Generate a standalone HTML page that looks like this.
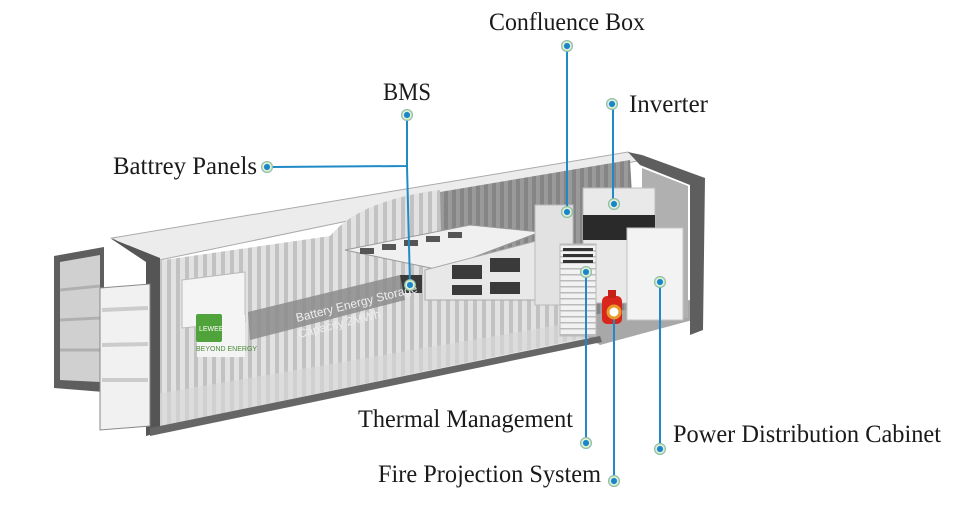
<!DOCTYPE html>
<html><head><meta charset="utf-8"><style>
html,body{margin:0;padding:0;background:#fff;width:960px;height:512px;overflow:hidden}
svg text{font-family:"Liberation Serif",serif;fill:#1a1a1a}
</style></head><body>
<svg width="960" height="512" viewBox="0 0 960 512" xmlns="http://www.w3.org/2000/svg">
<defs>
<pattern id="corr" width="9" height="10" patternUnits="userSpaceOnUse">
<rect width="9" height="10" fill="#e2e2e2"/><rect x="5" width="4" height="10" fill="#c2c2c2"/>
</pattern>
<pattern id="corrD" width="8" height="10" patternUnits="userSpaceOnUse">
<rect width="8" height="10" fill="#9a9a9a"/><rect x="4" width="4" height="10" fill="#858585"/>
</pattern>
<pattern id="vent" width="10" height="6" patternUnits="userSpaceOnUse">
<rect width="10" height="6" fill="#f2f2f2"/><rect y="4" width="10" height="1.5" fill="#bbb"/>
</pattern>
<radialGradient id="dot"><stop offset="0.45" stop-color="#1a86c6"/><stop offset="0.6" stop-color="#fff"/><stop offset="0.8" stop-color="#b9d98a"/><stop offset="1" stop-color="#6aa8d0"/></radialGradient>
</defs>

<!-- left open door -->
<polygon points="54,256 104,247 104,392 54,388" fill="#5e5e5e"/>
<polygon points="60,262 100,255 100,382 60,380" fill="#d0d0d0"/>
<g stroke="#b0b0b0" stroke-width="3"><line x1="60" y1="290" x2="100" y2="286"/><line x1="60" y1="320" x2="100" y2="318"/><line x1="60" y1="350" x2="100" y2="350"/></g>

<!-- roof -->
<polygon points="112,238 628,152 642,160 150,262" fill="#ececec" stroke="#aaa" stroke-width="1"/>
<!-- interior back wall (cutaway) -->
<polygon points="330,240 440,192 630,160 640,330 330,330" fill="url(#corrD)"/>
<!-- front wall -->
<path d="M150,262 L330,236 Q360,200 440,190 L442,270 L540,300 L570,300 L600,335 L150,428 Z" fill="url(#corr)"/>
<polygon points="150,395 600,318 602,338 150,428" fill="#d8d8d8" opacity="0.6"/>
<polygon points="560,320 690,300 700,318 600,345" fill="#a8a8a8"/>

<!-- battery rack -->
<polygon points="345,250 470,225 540,232 440,270" fill="#f0f0f0" stroke="#999"/>
<g fill="#555"><rect x="360" y="248" width="14" height="6"/><rect x="382" y="244" width="14" height="6"/><rect x="404" y="240" width="14" height="6"/><rect x="426" y="236" width="14" height="6"/><rect x="448" y="232" width="14" height="6"/></g>
<polygon points="425,270 540,240 540,300 425,300" fill="#e8e8e8" stroke="#aaa"/>
<g fill="#3a3a3a"><rect x="452" y="265" width="30" height="14"/><rect x="490" y="258" width="30" height="14"/><rect x="452" y="285" width="30" height="10"/><rect x="490" y="282" width="30" height="12"/><rect x="400" y="275" width="22" height="18"/></g>

<!-- right door frame -->
<polygon points="628,152 642,155 705,178 703,330 690,335 690,185 640,165" fill="#5e5e5e"/>
<polygon points="642,168 688,186 688,318 642,312" fill="#b0b0b0"/>
<rect x="583" y="188" width="72" height="115" fill="#e9e9e9" stroke="#bbb"/>
<rect x="583" y="215" width="72" height="25" fill="#2a2a2a"/>
<rect x="627" y="228" width="56" height="92" fill="#f3f3f3" stroke="#c4c4c4"/>
<rect x="535" y="205" width="38" height="100" fill="#e2e2e2" stroke="#bbb"/>
<rect x="560" y="244" width="36" height="92" fill="url(#vent)" stroke="#bbb"/>
<g fill="#333"><rect x="563" y="248" width="30" height="3"/><rect x="563" y="254" width="30" height="3"/><rect x="563" y="260" width="30" height="3"/></g>
<rect x="602" y="296" width="20" height="28" rx="5" fill="#d9261c"/>
<rect x="608" y="290" width="8" height="8" fill="#c51f17"/>

<!-- front frame posts -->
<polygon points="110,238 160,258 160,432 146,436 146,262" fill="#555"/>
<polygon points="100,288 150,284 150,426 100,430" fill="#f1f1f1" stroke="#888"/>
<g stroke="#ccc" stroke-width="4"><line x1="102" y1="310" x2="148" y2="308"/><line x1="102" y1="345" x2="148" y2="344"/><line x1="102" y1="380" x2="148" y2="380"/></g>
<polygon points="150,428 600,336 602,342 150,436" fill="#666"/>

<polygon points="182,280 245,272 245,322 182,328" fill="#f4f4f4" stroke="#bbb"/>
<rect x="197" y="315" width="48" height="42" fill="#f4f4f4"/>
<rect x="196" y="314" width="26" height="28" rx="2" fill="#4fa33a"/>
<text x="199" y="331" font-size="7" style="fill:#fff;font-family:'Liberation Sans',sans-serif">LEWEE</text>
<text x="196" y="351" font-size="7" style="fill:#4a8a3a;font-family:'Liberation Sans',sans-serif">BEYOND ENERGY</text>
<polygon points="248,312 400,275 405,300 250,340" fill="#8c8c8c" opacity="0.85"/>
<text transform="translate(297,322) rotate(-14)" font-size="12" style="fill:#eee;font-family:'Liberation Sans',sans-serif">Battery Energy Storage</text>
<text transform="translate(299,338) rotate(-14)" font-size="12" style="fill:#eee;font-family:'Liberation Sans',sans-serif">Capacity 2MWh</text>

<g stroke="#1f8ac6" stroke-width="2" fill="none">
<line x1="567" y1="46" x2="567" y2="212"/>
<line x1="613" y1="104" x2="613" y2="204"/>
<polyline points="407,115 407,166 272,167"/>
<line x1="407" y1="166" x2="410" y2="285"/>
<line x1="586" y1="272" x2="586" y2="443"/>
<line x1="614" y1="312" x2="614" y2="481"/>
<line x1="660" y1="282" x2="660" y2="449"/>
</g>
<g fill="url(#dot)">
<circle cx="567" cy="46" r="6"/><circle cx="612" cy="104" r="6"/><circle cx="407" cy="115" r="6"/><circle cx="267" cy="167" r="6"/>
<circle cx="586" cy="443" r="6"/><circle cx="614" cy="481" r="6"/><circle cx="660" cy="449" r="6"/>
<circle cx="567" cy="212" r="6"/><circle cx="614" cy="204" r="6"/><circle cx="410" cy="285" r="6"/><circle cx="586" cy="272" r="6"/><circle cx="660" cy="282" r="6"/>
</g>
<circle cx="614" cy="312" r="6" fill="#fff" stroke="#e89a2a" stroke-width="3"/>

<g font-size="25" lengthAdjust="spacingAndGlyphs">
<text x="489" y="30" textLength="156" lengthAdjust="spacingAndGlyphs">Confluence Box</text>
<text x="383" y="100" textLength="48" lengthAdjust="spacingAndGlyphs">BMS</text>
<text x="629" y="112" textLength="79" lengthAdjust="spacingAndGlyphs">Inverter</text>
<text x="113" y="174" textLength="144" lengthAdjust="spacingAndGlyphs">Battrey Panels</text>
<text x="358" y="427" textLength="215" lengthAdjust="spacingAndGlyphs">Thermal Management</text>
<text x="673" y="442" textLength="268" lengthAdjust="spacingAndGlyphs">Power Distribution Cabinet</text>
<text x="378" y="482" textLength="223" lengthAdjust="spacingAndGlyphs">Fire Projection System</text>
</g>
</svg>
</body></html>
